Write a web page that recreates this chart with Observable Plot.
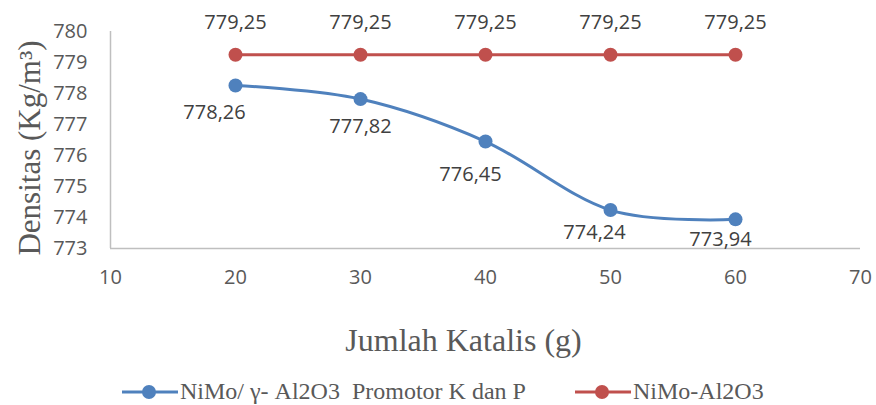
<!DOCTYPE html>
<html>
<head>
<meta charset="utf-8">
<script src="https://cdn.jsdelivr.net/npm/d3@7"></script>
<script src="https://cdn.jsdelivr.net/npm/@observablehq/plot@0.6"></script>
<style>
  html, body { margin: 0; padding: 0; background: #fff; }
  #chart { width: 876px; }
  .legend { position: relative; height: 35px; font-family: "Liberation Serif", "Times New Roman", serif; font-size: 24px; color: #595959; }
  .legend .item { position: absolute; top: 8px; display: flex; align-items: center; }
  .legend svg { display: block; margin-right: 2px; }
</style>
</head>
<body>
<div id="chart"></div>
<script>
const jumlahKatalis = [20, 30, 40, 50, 60];
const promotorKP = [778.26, 777.82, 776.45, 774.24, 773.94];
const nimoAl2O3 = [779.25, 779.25, 779.25, 779.25, 779.25];
const seriesNames = ["NiMo/ γ- Al2O3  Promotor K dan P", "NiMo-Al2O3"];
const seriesColors = ["#4f81bd", "#c0504d"];
const xTicks = [10, 20, 30, 40, 50, 60, 70];
const yTicks = [773, 774, 775, 776, 777, 778, 779, 780];

const fmt = v => v.toFixed(2).replace(".", ",");
const blue = jumlahKatalis.map((x, i) => ({x, y: promotorKP[i], i}));
const red = jumlahKatalis.map((x, i) => ({x, y: nimoAl2O3[i], i}));

const numFont = "'Open Sans', 'Noto Sans', sans-serif";
const serif = "'Liberation Serif', 'Times New Roman', serif";

// label placement (pixels) for the blue series labels, as placed in the original
const blueLabelOffsets = [[-21, 27], [0, 28], [-15, 33], [-16, 23], [-15, 20]];

const chart = Plot.plot({
  width: 876,
  height: 370,
  marginLeft: 110,
  marginRight: 16,
  marginTop: 31,
  marginBottom: 122,
  style: { fontFamily: numFont, fontSize: "20px", color: "#595959", background: "#fff" },
  x: { domain: [10, 70], ticks: xTicks },
  y: { domain: [773, 780], ticks: yTicks },
  marks: [
    Plot.axisX({ ticks: xTicks, tickSize: 0, tickPadding: 21, label: null, fontSize: 20, tickFormat: d => String(d), fill: "#595959" }),
    Plot.axisY({ ticks: yTicks, tickSize: 0, tickPadding: 23, label: null, fontSize: 20, tickFormat: d => String(d), fill: "#595959" }),
    Plot.ruleY([773], { stroke: "#bfbfbf", strokeWidth: 1.5 }),
    Plot.ruleX([10], { stroke: "#bfbfbf", strokeWidth: 1.5 }),
    Plot.line(red, { x: "x", y: "y", stroke: seriesColors[1], strokeWidth: 3 }),
    Plot.line(blue, { x: "x", y: "y", stroke: seriesColors[0], strokeWidth: 3, curve: "cardinal", tension: 0 }),
    Plot.dot(red, { x: "x", y: "y", r: 7, fill: seriesColors[1] }),
    Plot.dot(blue, { x: "x", y: "y", r: 7, fill: seriesColors[0] }),
    Plot.text(red, { x: "x", y: "y", text: d => fmt(d.y), dy: -32, fill: "#404040", fontSize: 20 }),
    ...blueLabelOffsets.map(([dx, dy], k) =>
      Plot.text(blue, { filter: d => d.i === k, x: "x", y: "y", text: d => fmt(d.y), dx, dy, fill: "#404040", fontSize: 20 })
    ),
    Plot.text(["Jumlah Katalis (g)"], { frameAnchor: "bottom", dx: -22, dy: 102, fontFamily: serif, fontSize: 32, fill: "#595959" }),
    Plot.text(["Densitas (Kg/m³)"], { frameAnchor: "left", textAnchor: "middle", rotate: -90, dx: -80, dy: 8, fontFamily: serif, fontSize: 31, fill: "#595959" })
  ]
});
document.getElementById("chart").appendChild(chart);

const legend = document.createElement("div");
legend.className = "legend";
const positions = [122, 575];
seriesNames.forEach((name, i) => {
  const item = document.createElement("div");
  item.className = "item";
  item.style.left = positions[i] + "px";
  item.innerHTML = `<svg width="56" height="20"><line x1="0" y1="10" x2="56" y2="10" stroke="${seriesColors[i]}" stroke-width="3"/><circle cx="27" cy="10" r="7" fill="${seriesColors[i]}"/></svg><span style="white-space:pre">${name}</span>`;
  legend.appendChild(item);
});
document.body.appendChild(legend);
</script>
</body>
</html>
